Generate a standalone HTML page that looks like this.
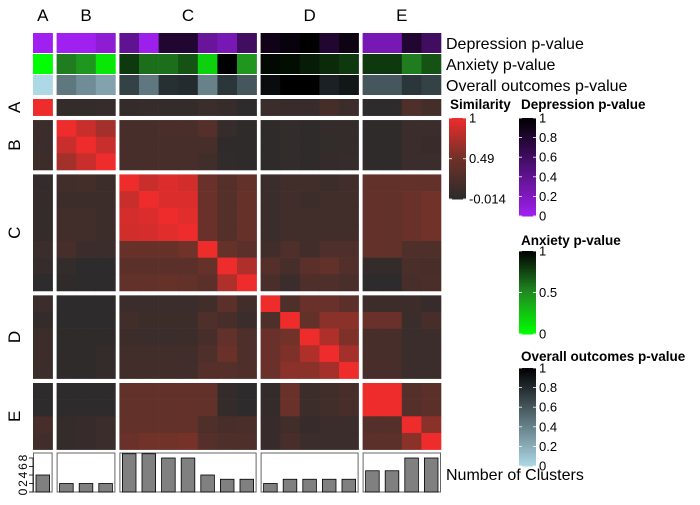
<!DOCTYPE html>
<html><head><meta charset="utf-8"><style>
body{margin:0;background:#fff;font-family:"Liberation Sans",sans-serif}
svg text{font-family:"Liberation Sans",sans-serif}
</style></head><body>
<svg id="c" width="700" height="500" xmlns="http://www.w3.org/2000/svg"></svg>
<script>
const groups=["A","B","C","D","E"];
const groupSizes=[1,3,7,5,4];
const simMatrix=[
[1,.05,.05,.07,.05,.06,.05,.05,.1,.06,0,.1,.08,.08,.18,.1,0,0,.25,.18],
[.1,1,.85,.7,.2,.2,.22,.22,.3,.07,.02,.02,.04,.02,.05,.05,.02,.02,.1,.1],
[.1,.85,1,.85,.2,.2,.2,.2,.2,.02,.02,.02,.04,.02,.04,.05,.02,.02,.1,.08],
[.12,.7,.85,1,.2,.2,.2,.2,.15,.03,.02,.02,.04,.02,.05,.06,.02,.02,.1,.1],
[.05,.15,.17,.12,1,.85,.93,.88,.45,.3,.4,.1,.15,.15,.12,.15,.4,.4,.4,.4],
[.05,.12,.12,.12,.85,1,.92,.92,.45,.3,.42,.1,.15,.12,.15,.15,.4,.4,.45,.5],
[.05,.15,.15,.12,.9,.92,1,.95,.45,.3,.42,.1,.15,.15,.15,.15,.4,.4,.45,.5],
[.05,.15,.15,.12,.88,.9,.95,1,.45,.3,.42,.1,.15,.15,.15,.15,.4,.4,.45,.5],
[.1,.2,.1,.1,.42,.42,.42,.5,1,.42,.35,.15,.25,.15,.25,.25,.4,.4,.25,.25],
[.07,.05,0,0,.35,.35,.35,.35,.42,1,.75,.3,.2,.35,.4,.28,.05,.05,.22,.2],
[0,.02,0,0,.4,.4,.42,.4,.35,.75,1,.22,.1,.25,.25,.22,0,0,.2,.22],
[.1,0,0,0,.1,.1,.1,.1,.15,.35,.15,1,.25,.45,.45,.35,.12,.12,.12,.08],
[.05,0,0,0,.15,.12,.12,.12,.25,.2,.1,.25,1,.4,.6,.6,.45,.45,.1,.2],
[.12,.02,.02,.02,.12,.1,.1,.12,.2,.4,.25,.45,.5,1,.75,.55,.2,.2,.1,.1],
[.12,.02,.02,.05,.15,.15,.15,.15,.25,.45,.25,.45,.55,.75,1,.7,.2,.2,.1,.1],
[.1,.02,.02,.05,.15,.15,.15,.15,.3,.3,.25,.45,.6,.6,.7,1,.2,.2,.1,.1],
[0,0,0,0,.4,.4,.4,.4,.4,.05,0,.05,.45,.12,.15,.2,1,1,.3,.35],
[0,0,0,0,.4,.4,.4,.4,.4,.05,0,.05,.45,.12,.15,.2,1,1,.3,.35],
[.2,.05,.08,.1,.4,.4,.4,.4,.25,.2,.22,.08,.15,.08,.1,.1,.3,.3,1,.6],
[.15,.05,.08,.1,.45,.5,.5,.52,.3,.25,.25,.08,.2,.1,.1,.1,.35,.35,.6,1]];
const depP=[0,0,0,.12,.4,.02,.8,.8,.35,.25,.6,.9,.95,1,.8,.92,.25,.25,.8,.6];
const anxP=[0,.55,.45,.1,.8,.6,.6,.7,.2,1,.45,.97,.95,.9,.85,.8,.8,.8,.55,.7];
const allP=[0,.45,.35,.25,.7,.45,.78,.8,.4,.75,.6,.95,1,1,.85,.9,.6,.6,.75,.7];
const nClusters=[4,2,2,2,9,9,8,8,4,3,3,2,3,3,3,3,5,5,8,8];
const barTicks=[0,2,4,6,8];
const simTicks=[1,0.49,-0.014];
const pTicks=[1,0.8,0.6,0.4,0.2,0];
const anxTicks=[1,0.5,0];

const NS="http://www.w3.org/2000/svg";
const svg=document.getElementById('c');
function el(t,a,p){const e=document.createElementNS(NS,t);for(const k in a)e.setAttribute(k,a[k]);(p||svg).appendChild(e);return e;}
function hex(h){return [1,3,5].map(i=>parseInt(h.substr(i,2),16));}
function lerp(c1,c2,t){const a=hex(c1),b=hex(c2);return 'rgb('+a.map((v,i)=>Math.round(v+(b[i]-v)*t)).join(',')+')';}
function ramp(stops,v){for(let i=0;i<stops.length-1;i++){const[a,ca]=stops[i],[b,cb]=stops[i+1];if(v<=b||i==stops.length-2){let t=(v-a)/(b-a);t=Math.max(0,Math.min(1,t));return lerp(ca,cb,t);}}}
const simCol=v=>ramp([[-0.014,'#2b2b2b'],[0.49,'#6e3229'],[1,'#ee2c2c']],v);
const depCol=v=>ramp([[0,'#a020f0'],[1,'#000000']],v);
const anxCol=v=>ramp([[0,'#00ff00'],[0.5,'#228b22'],[1,'#000000']],v);
const allCol=v=>ramp([[0,'#add8e6'],[1,'#000000']],v);

const cw=19.6,cgap=4,x0=33,rh=16.65,rgap=4.4,y0=99;
const colX=[],rowY=[],gStartC=[],gStartR=[];
let x=x0,y=y0;
groupSizes.forEach((n,g)=>{gStartC.push(x);gStartR.push(y);for(let i=0;i<n;i++){colX.push(x);rowY.push(y);x+=cw;y+=rh;}x+=cgap;y+=rgap;});
function gEndC(g){return gStartC[g]+groupSizes[g]*cw;}
function gEndR(g){return gStartR[g]+groupSizes[g]*rh;}

groups.forEach((gname,g)=>{
 const t=el('text',{x:(gStartC[g]+gEndC(g))/2,y:21,'font-size':17,'text-anchor':'middle'});t.textContent=gname;
 
 
 const r=el('text',{x:0,y:0,'font-size':17,'text-anchor':'middle',transform:`translate(20,${(gStartR[g]+gEndR(g))/2}) rotate(-90)`});r.textContent=gname;
 
 
});

const annRows=[[depP,depCol,33,'Depression p-value'],[anxP,anxCol,54,'Anxiety p-value'],[allP,allCol,75,'Overall outcomes p-value']];
annRows.forEach(([vals,cf,yy,label])=>{
 vals.forEach((v,i)=>{const r=el('rect',{x:colX[i],y:yy,width:cw+0.3,height:20,fill:cf(v)});
  
  });
 const t=el('text',{x:446,y:yy+16,'font-size':16});t.textContent=label;
 
 
});

simMatrix.forEach((row,r)=>row.forEach((v,c)=>{
 const e=el('rect',{x:colX[c],y:rowY[r],width:cw+0.3,height:rh+0.3,fill:simCol(v)});
 
 
}));

const by0=492,bunit=4.25;
groups.forEach((gname,g)=>{
 const b=el('rect',{x:gStartC[g]+0.5,y:453,width:groupSizes[g]*cw-1,height:39,fill:'none',stroke:'#666','stroke-width':1});
 
 
});
nClusters.forEach((v,i)=>{
 const e=el('rect',{x:colX[i]+3,y:by0-v*bunit,width:cw-6,height:v*bunit,fill:'#808080',stroke:'#000','stroke-width':0.8});
 
 
});
barTicks.forEach(t=>{
 const yy=by0-t*bunit;
 el('line',{x1:29,x2:33,y1:yy,y2:yy,stroke:'#000','stroke-width':0.8});
 const tx=el('text',{x:0,y:0,'font-size':12,'text-anchor':'middle',transform:`translate(27,${yy}) rotate(-90)`});tx.textContent=t;
 
 
});
el('line',{x1:33,x2:33,y1:by0-8*bunit,y2:by0,stroke:'#000','stroke-width':0.8});
const nl=el('text',{x:446,y:480,'font-size':16});nl.textContent='Number of Clusters';



function legend(name,title,tx,ty,bx,by,bh,ticks,lo,hi,cf){
 const t=el('text',{x:tx,y:ty,'font-size':13.5,'font-weight':'bold'});t.textContent=title;
 
 
 const n=60;
 for(let i=0;i<n;i++){const v=hi-(hi-lo)*(i+0.5)/n;el('rect',{x:bx,y:by+bh*i/n,width:17,height:bh/n+0.5,fill:cf(v)});}
 ticks.forEach(tk=>{const yy=by+bh*(hi-tk)/(hi-lo);
  el('line',{x1:bx,x2:bx+3,y1:yy,y2:yy,stroke:'#fff','stroke-width':0.8});
  el('line',{x1:bx+14,x2:bx+17,y1:yy,y2:yy,stroke:'#fff','stroke-width':0.8});
  const l=el('text',{x:bx+20,y:yy+4.5,'font-size':13});l.textContent=tk;
  
  });
}
legend('similarity','Similarity',450,109,449,118,81,simTicks,-0.014,1,simCol);
legend('depression','Depression p-value',521,109,519,118,98,pTicks,0,1,depCol);
legend('anxiety','Anxiety p-value',521,245,519,251,83,anxTicks,0,1,anxCol);
legend('overall','Overall outcomes p-value',521,361,519,368,98,pTicks,0,1,allCol);
</script>
</body></html>
